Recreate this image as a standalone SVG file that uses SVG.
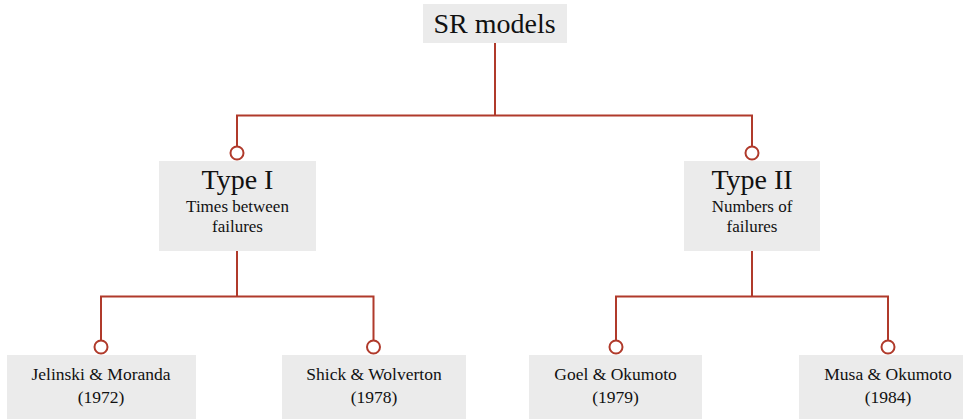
<svg xmlns="http://www.w3.org/2000/svg" width="963" height="419" viewBox="0 0 963 419">
<style>
.box{fill:#ebebeb}
.t{font-family:"Liberation Serif","Times New Roman",serif;fill:#111;text-anchor:middle}
.big{font-size:28px}
.sm{font-size:17px}
.leaf{font-size:17.5px}
.ln{fill:none;stroke:#b03a2b;stroke-width:2}
.dot{fill:#fff;stroke:#b03a2b;stroke-width:2}
</style>
<rect width="963" height="419" fill="#fff"/>
<g id="connectors">
<path class="ln" d="M495 43V115.5M237 146V115.5H752V146"/>
<path class="ln" d="M237 251V296.5M101 340V296.5H373.5V340"/>
<path class="ln" d="M752 251V296.5M616 340V296.5H888V340"/>
<circle class="dot" cx="237" cy="153" r="6.5"/>
<circle class="dot" cx="752" cy="153" r="6.5"/>
<circle class="dot" cx="101" cy="347" r="6.5"/>
<circle class="dot" cx="373.5" cy="347" r="6.5"/>
<circle class="dot" cx="616" cy="347" r="6.5"/>
<circle class="dot" cx="888" cy="347" r="6.5"/>
</g>
<g id="sr">
<rect class="box" x="423" y="4" width="144" height="39"/>
<text class="t big" x="494.5" y="33">SR models</text>
</g>
<g id="type1">
<rect class="box" x="159" y="161" width="157" height="90"/>
<text class="t big" x="237.5" y="189">Type I</text>
<text class="t sm" x="237.5" y="212">Times between</text>
<text class="t sm" x="237.5" y="232">failures</text>
</g>
<g id="type2">
<rect class="box" x="684" y="161" width="136" height="90"/>
<text class="t big" x="752" y="189">Type II</text>
<text class="t sm" x="752" y="212">Numbers of</text>
<text class="t sm" x="752" y="232">failures</text>
</g>
<g id="jm">
<rect class="box" x="7" y="355" width="189" height="64"/>
<text class="t leaf" x="101" y="380">Jelinski &amp; Moranda</text>
<text class="t leaf" x="101" y="403">(1972)</text>
</g>
<g id="sw">
<rect class="box" x="282" y="355" width="184" height="64"/>
<text class="t leaf" x="374" y="380">Shick &amp; Wolverton</text>
<text class="t leaf" x="374" y="403">(1978)</text>
</g>
<g id="go">
<rect class="box" x="529" y="355" width="173" height="64"/>
<text class="t leaf" x="615.5" y="380">Goel &amp; Okumoto</text>
<text class="t leaf" x="615.5" y="403">(1979)</text>
</g>
<g id="mo">
<rect class="box" x="799" y="355" width="164" height="64"/>
<text class="t leaf" x="888" y="380">Musa &amp; Okumoto</text>
<text class="t leaf" x="888" y="403">(1984)</text>
</g>
</svg>
